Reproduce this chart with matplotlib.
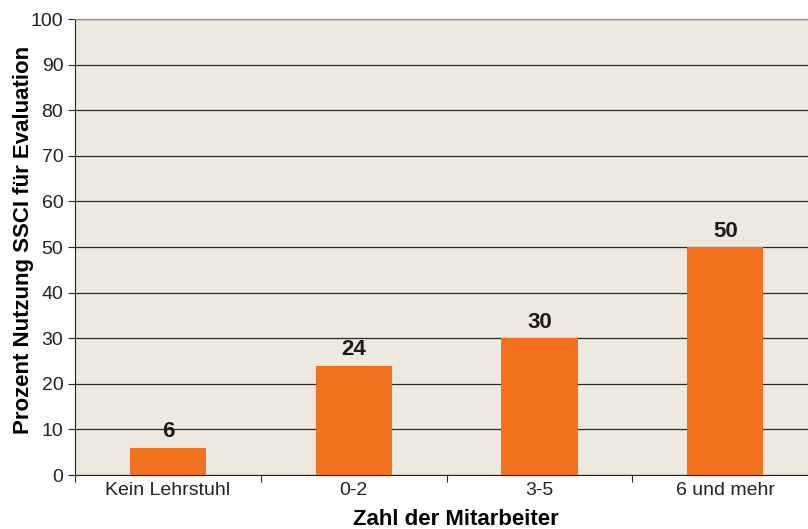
import matplotlib.pyplot as plt
import numpy as np

plt.rcParams['font.family'] = ['Liberation Sans', 'DejaVu Sans']

# Daten
kategorien = ['Kein Lehrstuhl', '0-2', '3-5', '6 und mehr']
werte = [6, 24, 30, 50]

fig = plt.figure(figsize=(8.08, 5.29), dpi=100)
# Achsen reichen rechts etwas über den Bildrand hinaus (wie im Original)
ax = fig.add_axes([0.093, 0.102, 0.9195, 0.862])
ax.set_facecolor('#ede9df')

x = np.arange(len(kategorien))
ax.bar(x, werte, width=0.41, color='#f37021', zorder=3)
for xi, v in zip(x, werte):
    ax.text(xi, v + 1.2, str(v), ha='center', va='bottom', fontsize=16,
            fontweight='bold', color='#1a1a1a', zorder=4)

ax.set_xlim(-0.5, len(kategorien) - 0.5)
ax.set_ylim(0, 100)
ax.set_yticks(np.arange(0, 101, 10))
ax.yaxis.grid(True, color='#2a2a2a', linewidth=0.9, zorder=1)

# Kategorienbeschriftung zwischen den Ticks
ax.set_xticks(np.arange(-0.5, len(kategorien), 1))
ax.set_xticklabels([])
ax.set_xticks(x, minor=True)
ax.set_xticklabels(kategorien, minor=True)
ax.tick_params(axis='x', which='minor', length=0, labelsize=14, pad=5, colors='#222222')
ax.tick_params(axis='x', which='major', length=5, direction='out', color='#222222')
ax.tick_params(axis='y', length=5, labelsize=14, colors='#222222')

for s in ['left', 'bottom']:
    ax.spines[s].set_color('#222222')
ax.spines['top'].set_color('#888888')
ax.spines['right'].set_visible(False)

ax.set_xlabel('Zahl der Mitarbeiter', fontsize=16, fontweight='bold')
ax.set_ylabel('Prozent Nutzung SSCI für Evaluation', fontsize=16, fontweight='bold')
ax.xaxis.set_label_coords((456 - 75) / 743, -(509 - 475) / 456)
ax.yaxis.set_label_coords(-(75 - 34) / 743, (475 - 240) / 456)

fig.savefig('out.png', dpi=100)
